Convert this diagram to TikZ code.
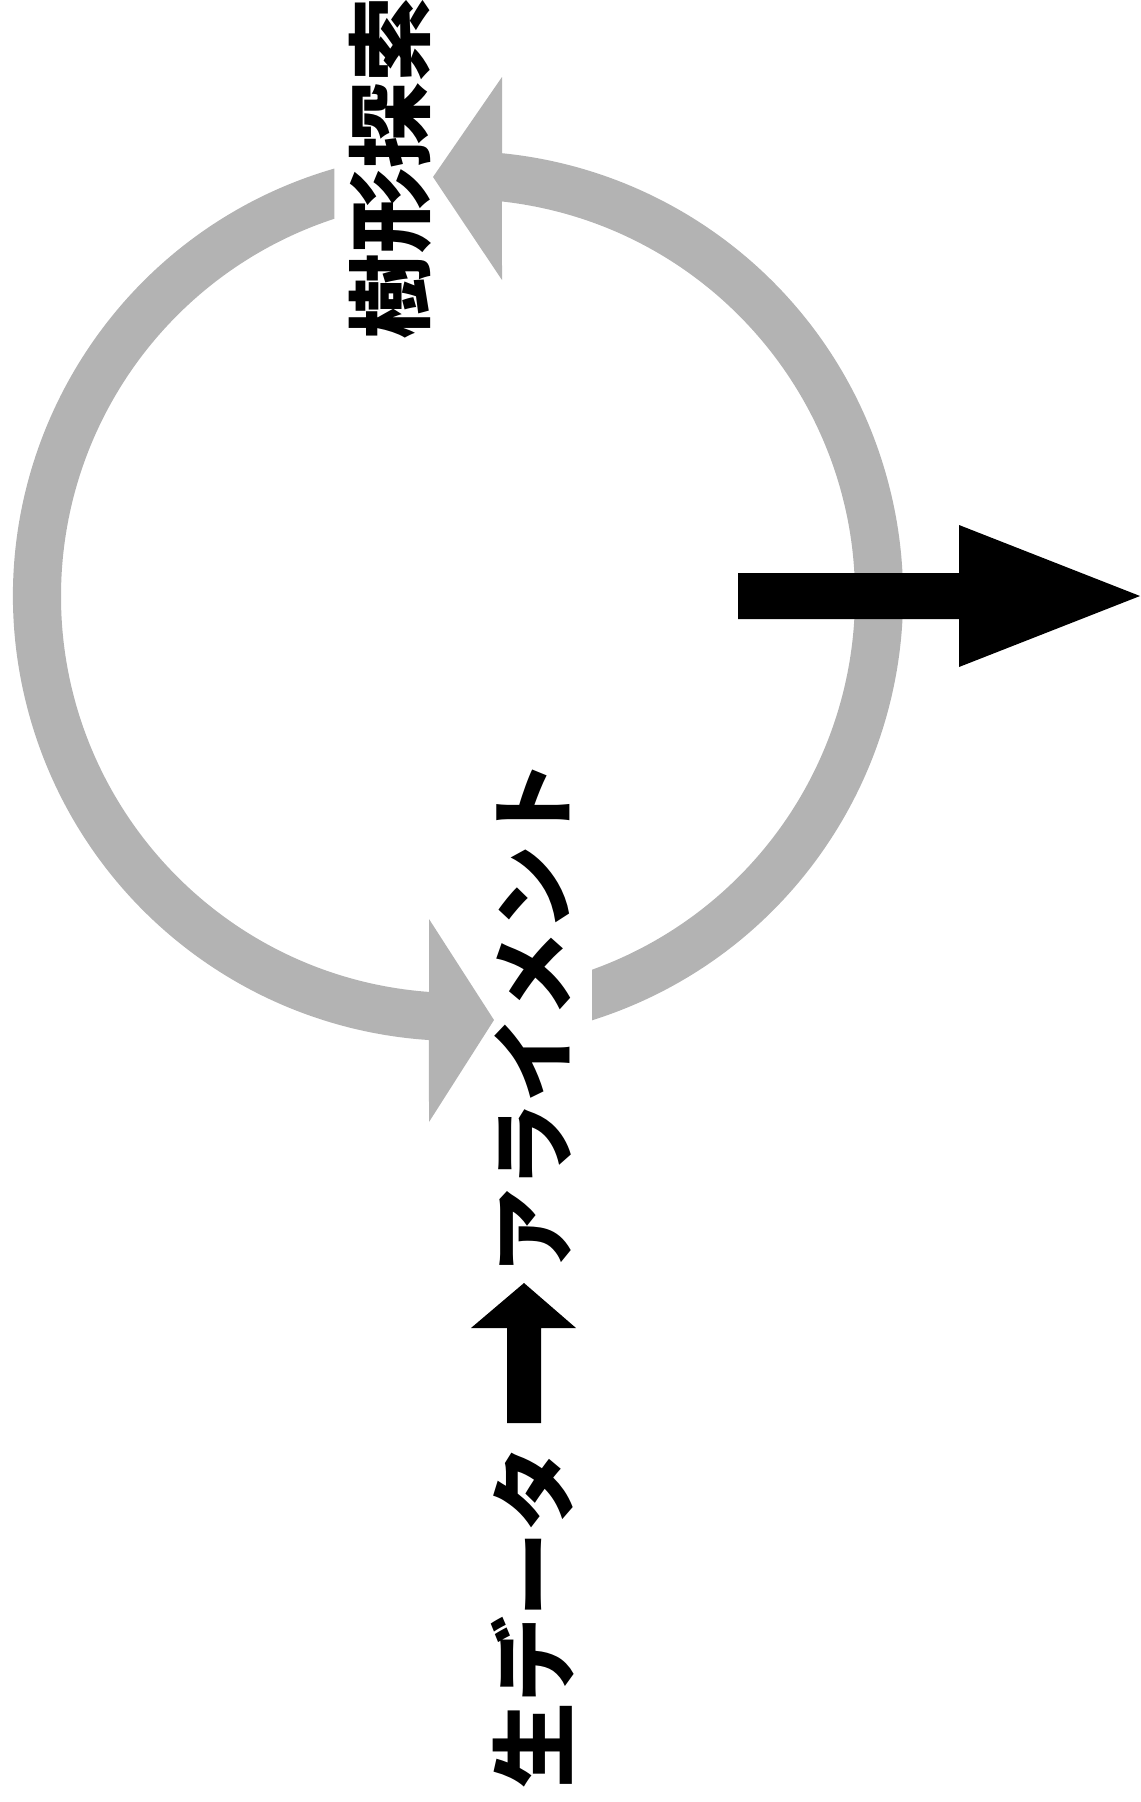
\documentclass[tikz,border=0pt]{standalone}
\usepackage{fontspec}
\newfontfamily\jpfont{Noto Sans CJK JP}
\usetikzlibrary{calc}
\definecolor{cyclegray}{HTML}{B3B3B3}
\tikzset{
  cyclearc/.style={fill=cyclegray, draw=none},
  blockarrow/.style={fill=black, draw=none},
  steplabel/.style={
    font=\jpfont\bfseries\fontsize{61}{61}\selectfont,
    rotate=90, inner sep=0pt
  },
}

\begin{document}
\begin{tikzpicture}[x=0.025cm, y=-0.025cm]
  \useasboundingbox (0,0) rectangle (1141,1802);
  \coordinate (c) at (458,596);

  % Right half of the cycle, head pointing left at the top
  \fill[cyclearc] ($(c)+(72.47:445)$)
    arc[start angle=72.47, end angle=-84.32, radius=445]
    -- (502,77) -- (433,177) -- (502,280) -- ($(c)+(-83.64:397)$)
    arc[start angle=-83.64, end angle=70.27, radius=397] -- cycle;

  % Left half of the cycle, head pointing right at the bottom
  \fill[cyclearc] ($(c)+(253.86:445)$)
    arc[start angle=253.86, end angle=93.74, radius=445]
    -- (429,1122) -- (494,1020) -- (429,919) -- ($(c)+(94.19:397)$)
    arc[start angle=94.19, end angle=251.84, radius=397] -- cycle;

  % Output arrow
  \fill[blockarrow] (738,573) -- (959,573) -- (959,525) -- (1140,596)
    -- (959,667) -- (959,619) -- (738,619) -- cycle;

  % Labels
  \node[steplabel] (search) at (390,168) {樹形探索};
  \node[steplabel] (align) at (533,1017) {アライメント};
  \node[steplabel] (rawdata) at (533,1617) {生データ};

  % Raw data to alignment
  \fill[blockarrow] (507,1423) -- (507,1328) -- (471,1328) -- (524,1283)
    -- (576,1328) -- (541,1328) -- (541,1423) -- cycle;
\end{tikzpicture}
\end{document}
